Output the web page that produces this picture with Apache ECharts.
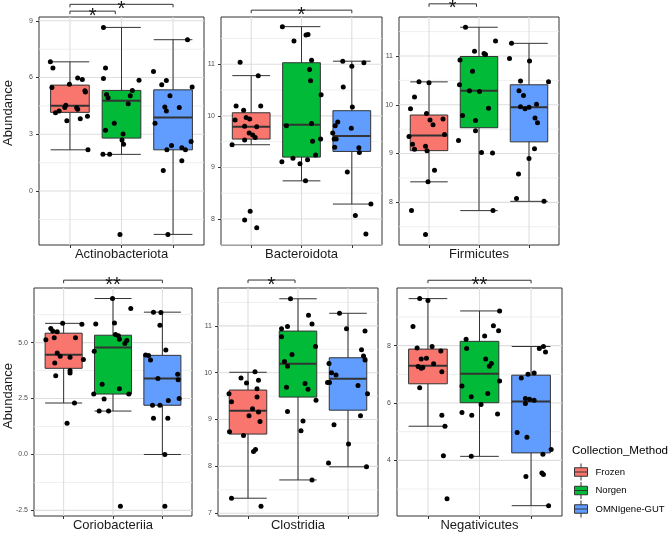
<!DOCTYPE html>
<html>
<head>
<meta charset="utf-8">
<script src="https://cdn.jsdelivr.net/npm/echarts@6/dist/echarts.min.js"></script>
<style>
  html, body { margin: 0; padding: 0; background: #fff; }
  #chart { width: 670px; height: 535px; }
</style>
</head>
<body>
<div id="chart"></div>
<script>
// boxplots of abundance by collection method, one panel per taxon
const METHODS = ['Frozen', 'Norgen', 'OMNIgene-GUT'];
const METHOD_COLORS = ['#F8766D', '#00BA38', '#619CFF'];

// --- Actinobacteriota
const actinoRange = [-2.85, 9.2];
const actinoTicks = [0, 3, 6, 9];
const actinoMinor = [-1.5, 1.5, 4.5, 7.5];
// [lower whisker, Q1, median, Q3, upper whisker]
const actinoBox = [[2.18, 4.16, 4.51, 5.60, 6.83], [1.94, 2.80, 4.77, 5.32, 8.65], [-2.29, 2.18, 3.89, 5.35, 8.0]];
const actinoJitter = [
  [-0.38, -0.33, -0.35, -0.01, 0.15, 0.24, 0.29, 0.30, -0.28, -0.21, -0.10, -0.08, 0.13, 0.15, -0.06, 0.20, 0.34, 0.35],
  [-0.35, -0.31, -0.35, -0.29, -0.26, 0.21, 0.17, 0.34, 0.13, -0.14, -0.31, 0.03, 0.01, 0.04, -0.36, -0.23, -0.03],
  [0.28, -0.38, -0.22, -0.13, -0.06, 0.37, -0.16, -0.13, 0.12, -0.35, 0.35, -0.03, -0.12, 0.17, 0.24, 0.17, -0.19, -0.10]
];
const actinoValues = [
  [6.83, 6.50, 5.48, 5.65, 5.97, 5.90, 5.30, 5.23, 4.14, 4.23, 4.42, 4.53, 4.40, 4.33, 3.72, 3.82, 3.96, 2.18],
  [8.65, 6.50, 5.95, 5.11, 4.93, 5.32, 5.04, 5.86, 4.61, 3.58, 3.21, 3.01, 2.70, 2.47, 1.94, 1.94, -2.29],
  [8.0, 6.32, 5.62, 5.85, 5.04, 5.50, 4.44, 4.23, 4.42, 3.58, 2.62, 2.41, 2.18, 2.29, 2.18, 1.60, 1.09, -2.29]
];
// [from, to, height, label]
const actinoSignif = [[1, 1.88, 9.51, '*'], [1, 3, 9.87, '*']];

// --- Bacteroidota
const bacteroRange = [7.496, 11.917];
const bacteroTicks = [8, 9, 10, 11];
const bacteroMinor = [7.5, 8.5, 9.5, 10.5, 11.5];
const bacteroBox = [[9.44, 9.55, 9.79, 10.06, 10.78], [8.74, 9.20, 9.83, 11.03, 11.73], [8.29, 9.31, 9.61, 10.10, 11.06]];
const bacteroJitter = [
  [-0.22, 0.14, -0.30, -0.15, 0.19, -0.32, -0.10, -0.03, -0.13, 0.11, -0.04, 0.03, 0.08, -0.13, -0.38, -0.02, -0.13, 0.11],
  [-0.38, 0.09, 0.13, -0.15, 0.20, 0.16, 0.18, 0.39, -0.30, 0.20, 0.38, 0.22, 0.28, -0.39, -0.17, -0.03, 0.12, 0.08],
  [-0.18, 0.24, 0, -0.17, 0.01, -0.28, -0.33, -0.01, -0.38, -0.35, -0.31, -0.34, 0.14, 0.15, -0.09, 0.38, 0.07, 0.28]
];
const bacteroValues = [
  [11.04, 10.78, 10.19, 10.11, 10.19, 9.92, 9.97, 9.94, 9.80, 9.79, 9.67, 9.63, 9.58, 9.53, 9.44, 8.15, 7.98, 7.83],
  [11.73, 11.57, 11.58, 11.45, 11.08, 10.90, 10.68, 10.41, 9.81, 9.85, 9.55, 9.51, 9.24, 9.11, 9.18, 9.07, 9.15, 8.74],
  [11.06, 11.03, 10.96, 10.56, 10.17, 9.88, 9.81, 9.76, 9.67, 9.55, 9.55, 9.39, 9.38, 9.29, 8.91, 8.29, 8.07, 7.71]
];
const bacteroSignif = [[1, 3, 12.05, '*']];

// --- Firmicutes
const firmiRange = [7.125, 11.80];
const firmiTicks = [8, 9, 10, 11];
const firmiMinor = [7.5, 8.5, 9.5, 10.5, 11.5];
const firmiBox = [[8.42, 9.06, 9.37, 9.79, 10.47], [7.83, 9.53, 10.29, 10.99, 11.59], [8.02, 9.24, 9.95, 10.41, 11.26]];
const firmiJitter = [
  [-0.20, 0, -0.29, -0.37, -0.05, 0.02, 0.08, 0.28, 0.31, -0.40, -0.33, -0.29, -0.07, -0.04, 0.11, -0.02, -0.35, -0.07],
  [-0.27, 0.33, -0.09, 0.10, 0.13, -0.38, -0.13, -0.39, -0.19, 0.01, 0.19, -0.33, -0.07, -0.07, -0.41, 0.05, 0.27, 0.28],
  [-0.35, -0.39, 0.01, -0.17, 0.39, -0.20, -0.11, -0.17, -0.08, 0, 0.15, 0.12, 0.17, 0.11, 0, -0.21, -0.25, 0.30]
];
const firmiValues = [
  [10.47, 10.45, 10.16, 9.92, 9.82, 9.69, 9.59, 9.71, 9.39, 9.35, 9.19, 9.09, 9.15, 9.06, 8.66, 8.42, 7.83, 7.34],
  [11.59, 11.31, 11.10, 11.05, 11.03, 10.92, 10.69, 10.41, 10.29, 10.27, 9.93, 9.78, 9.68, 9.47, 9.27, 9.02, 9.01, 7.83],
  [11.26, 10.95, 10.90, 10.49, 10.47, 10.29, 10.19, 9.96, 9.92, 9.95, 10.01, 9.73, 9.63, 9.10, 8.90, 8.58, 8.08, 8.02]
];
const firmiSignif = [[1, 1.95, 12.07, '*']];

// --- Coriobacteriia
const corioRange = [-2.75, 7.44];
const corioTicks = [-2.5, 0, 2.5, 5];
const corioMinor = [-1.25, 1.25, 3.75, 6.25];
const corioBox = [[2.30, 3.85, 4.46, 5.42, 5.86], [1.94, 2.70, 4.78, 5.33, 6.97], [0.0, 2.20, 3.39, 4.43, 6.36]];
const corioJitter = [
  [-0.02, 0.37, -0.26, -0.13, -0.22, -0.36, -0.19, 0.24, -0.13, -0.07, 0.13, 0.40, -0.18, 0.13, 0.13, -0.16, 0.22, 0.07],
  [-0.01, 0.36, -0.35, 0.03, 0.05, 0.11, 0.13, 0.28, 0.24, -0.38, -0.22, 0.13, -0.39, 0.32, -0.18, -0.28, -0.09, 0.15],
  [-0.18, -0.03, -0.05, -0.34, -0.28, -0.24, 0.07, -0.09, 0.31, 0.32, 0.34, 0.12, -0.20, -0.05, -0.18, 0.11, 0.05, 0.05]
];
const corioValues = [
  [5.86, 5.82, 5.63, 5.49, 5.52, 5.13, 5.22, 5.22, 4.54, 4.39, 4.34, 4.25, 4.09, 3.75, 3.64, 3.52, 2.30, 1.39],
  [6.97, 6.52, 5.83, 5.88, 5.36, 5.31, 5.15, 5.09, 4.96, 4.61, 3.14, 2.94, 2.70, 2.70, 2.48, 1.94, 1.94, -2.31],
  [6.36, 6.34, 5.78, 4.45, 4.42, 4.22, 4.67, 3.40, 3.58, 3.34, 2.50, 2.41, 2.20, 2.20, 1.62, 1.62, 0.0, -2.31]
];
const corioSignif = [[1, 3, 7.79, '**']];

// --- Clostridia
const clostRange = [6.94, 11.81];
const clostTicks = [7, 8, 9, 10, 11];
const clostMinor = [7.5, 8.5, 9.5, 10.5, 11.5];
const clostBox = [[7.32, 8.69, 9.19, 9.63, 10.01], [7.71, 9.48, 10.19, 10.89, 11.58], [7.99, 9.20, 9.87, 10.32, 11.27]];
const clostJitter = [
  [0.14, -0.14, 0.21, -0.03, 0.18, -0.38, 0.18, -0.33, 0.09, 0.02, 0.21, 0.24, -0.37, -0.09, 0.11, 0.15, -0.33, 0.26],
  [-0.15, 0.21, 0.28, -0.33, -0.21, -0.33, 0.35, -0.12, -0.27, -0.21, -0.23, 0.14, 0.20, 0.36, -0.21, 0.10, 0.06, 0.28],
  [-0.17, -0.03, 0.34, 0.27, 0.31, 0.34, -0.38, -0.33, -0.24, -0.41, -0.37, 0.20, 0.39, 0.25, -0.28, 0.01, -0.39, 0.37]
];
const clostValues = [
  [10.02, 9.89, 9.84, 9.78, 9.66, 9.55, 9.48, 9.38, 9.23, 9.08, 9.16, 8.96, 8.74, 8.66, 8.32, 8.36, 7.32, 7.15],
  [11.58, 11.23, 11.04, 10.94, 10.99, 10.77, 10.56, 10.39, 10.24, 10.14, 9.69, 9.77, 9.65, 9.41, 9.17, 8.97, 8.76, 7.71],
  [11.27, 10.94, 10.89, 10.49, 10.36, 10.27, 10.20, 10.00, 9.95, 9.79, 9.79, 9.73, 9.55, 9.08, 8.89, 8.48, 8.07, 7.99]
];
const clostSignif = [[1, 1.94, 11.98, '*']];

// --- Negativicutes
const negaRange = [2.06, 10.01];
const negaTicks = [4, 6, 8];
const negaMinor = [3, 5, 7, 9];
const negaBox = [[5.19, 6.67, 7.30, 7.88, 9.64], [4.14, 6.01, 7.02, 8.15, 9.21], [2.42, 4.26, 6.05, 6.97, 7.97]];
const negaJitter = [
  [-0.16, 0, -0.29, 0.08, -0.21, 0.25, -0.13, -0.03, 0.11, -0.19, -0.13, -0.10, 0.27, -0.16, 0.27, 0.33, 0.30, 0.37],
  [0.39, 0.27, 0.37, 0.10, -0.26, -0.25, 0.12, 0.23, 0.19, 0.39, -0.34, -0.16, 0.16, 0.03, -0.34, -0.15, 0.35, -0.16],
  [0.16, 0.24, 0.28, 0.06, -0.06, -0.19, -0.11, -0.03, 0.06, -0.11, -0.27, -0.08, 0.39, 0.23, 0.21, 0.24, -0.10, 0.34]
];
const negaValues = [
  [9.64, 9.57, 8.67, 7.97, 7.92, 7.81, 7.53, 7.56, 7.37, 7.27, 7.21, 7.24, 7.09, 6.53, 5.57, 5.19, 4.16, 2.66],
  [9.21, 8.69, 8.52, 8.34, 8.22, 7.90, 7.53, 7.38, 7.28, 6.77, 6.59, 6.22, 6.33, 5.95, 5.67, 5.57, 5.62, 4.14],
  [7.90, 7.97, 7.78, 7.05, 7.00, 6.87, 6.16, 6.13, 6.10, 5.98, 4.97, 4.81, 4.38, 4.21, 3.56, 3.51, 3.44, 2.42]
];
const negaSignif = [[1, 3, 10.28, '**']];

const panels = [
  { name: 'Actinobacteriota', range: actinoRange, ticks: actinoTicks, minor: actinoMinor, box: actinoBox, jitter: actinoJitter, values: actinoValues, signif: actinoSignif, digits: 0 },
  { name: 'Bacteroidota', range: bacteroRange, ticks: bacteroTicks, minor: bacteroMinor, box: bacteroBox, jitter: bacteroJitter, values: bacteroValues, signif: bacteroSignif, digits: 0 },
  { name: 'Firmicutes', range: firmiRange, ticks: firmiTicks, minor: firmiMinor, box: firmiBox, jitter: firmiJitter, values: firmiValues, signif: firmiSignif, digits: 0 },
  { name: 'Coriobacteriia', range: corioRange, ticks: corioTicks, minor: corioMinor, box: corioBox, jitter: corioJitter, values: corioValues, signif: corioSignif, digits: 1 },
  { name: 'Clostridia', range: clostRange, ticks: clostTicks, minor: clostMinor, box: clostBox, jitter: clostJitter, values: clostValues, signif: clostSignif, digits: 0 },
  { name: 'Negativicutes', range: negaRange, ticks: negaTicks, minor: negaMinor, box: negaBox, jitter: negaJitter, values: negaValues, signif: negaSignif, digits: 0 }
];

// panel rectangles [left, top, width, height]
const LAYOUT = [
  [39, 17, 165, 228], [221, 17, 161, 228], [399, 17, 160, 228],
  [34, 288, 158, 228], [218, 288, 160, 228], [397, 288, 165, 228]
];

const FONT = "'Liberation Sans', Arial, sans-serif";
const BOX_WIDTH = 0.75;
const X_RANGE = [0.4, 3.6];
const X_CENTERS = [1, 2, 3];
const EDGE = '#333333';
const GRID_MAJOR = '#DEDEDE';
const GRID_MINOR = '#EBEBEB';
const BOX_ICON = 'path://M6.5,0V4.25M6.5,12.75V17M0,4.25H13V12.75H0ZM0,8.5H13';

const renderBox = (params, api) => {
  const x = api.value(0);
  const lo = api.coord([x, api.value(1)]);
  const q1 = api.coord([x, api.value(2)]);
  const md = api.coord([x, api.value(3)]);
  const q3 = api.coord([x, api.value(4)]);
  const hi = api.coord([x, api.value(5)]);
  const half = api.size([BOX_WIDTH, 0])[0] / 2;
  const cx = lo[0];
  const line = { stroke: EDGE, lineWidth: 1 };
  return {
    type: 'group',
    children: [
      { type: 'line', shape: { x1: cx, y1: hi[1], x2: cx, y2: lo[1] }, style: line },
      { type: 'line', shape: { x1: cx - half, y1: hi[1], x2: cx + half, y2: hi[1] }, style: line },
      { type: 'line', shape: { x1: cx - half, y1: lo[1], x2: cx + half, y2: lo[1] }, style: line },
      { type: 'rect', shape: { x: cx - half, y: q3[1], width: half * 2, height: q1[1] - q3[1] },
        style: { fill: api.visual('color'), stroke: EDGE, lineWidth: 1 } },
      { type: 'line', shape: { x1: cx - half, y1: md[1], x2: cx + half, y2: md[1] }, style: { stroke: EDGE, lineWidth: 2 } }
    ]
  };
};

// horizontal bracket with small down ticks and the star label centred on it
const makeBracketRenderer = (signif) => (params, api) => {
  const a = api.coord([api.value(0), api.value(2)]);
  const b = api.coord([api.value(1), api.value(2)]);
  return {
    type: 'group',
    children: [
      { type: 'polyline', shape: { points: [[a[0], a[1] + 3], [a[0], a[1]], [b[0], b[1]], [b[0], b[1] + 3]] },
        style: { stroke: EDGE, fill: null, lineWidth: 1 } },
      { type: 'text', x: (a[0] + b[0]) / 2, y: a[1] + 5,
        style: { text: signif[params.dataIndex][3], fill: '#111', font: `20px ${FONT}`, textAlign: 'center', textVerticalAlign: 'middle' } }
    ]
  };
};

// panel grid as a plain line series per grid line: two points through the axes
const gridSeries = (p, i) => {
  const out = [];
  const add = (pts, color, width) => out.push({
    type: 'line',
    xAxisIndex: i,
    yAxisIndex: i,
    z: 1,
    silent: true,
    symbol: 'none',
    lineStyle: { color, width },
    data: pts
  });
  p.minor.forEach((v) => add([[X_RANGE[0], v], [X_RANGE[1], v]], GRID_MINOR, 0.8));
  p.ticks.forEach((v) => add([[X_RANGE[0], v], [X_RANGE[1], v]], GRID_MAJOR, 1.1));
  X_CENTERS.forEach((v) => add([[v, p.range[0]], [v, p.range[1]]], GRID_MAJOR, 1.1));
  return out;
};

const series = [];
panels.forEach((p, i) => {
  series.push(...gridSeries(p, i));
  METHODS.forEach((m, k) => {
    series.push({
      type: 'custom',
      name: m,
      xAxisIndex: i,
      yAxisIndex: i,
      z: 2,
      itemStyle: { color: METHOD_COLORS[k] },
      data: [[k + 1, ...p.box[k]]],
      encode: { x: 0, y: [1, 2, 3, 4, 5] },
      renderItem: renderBox
    });
  });
  const pts = [];
  p.values.forEach((vals, k) => vals.forEach((v, j) => pts.push([k + 1 + p.jitter[k][j], v])));
  series.push({
    type: 'scatter',
    xAxisIndex: i,
    yAxisIndex: i,
    z: 3,
    symbolSize: 5,
    itemStyle: { color: '#000', opacity: 1 },
    data: pts
  });
  series.push({
    type: 'custom',
    xAxisIndex: i,
    yAxisIndex: i,
    z: 4,
    clip: false,
    data: p.signif.map((s) => [s[0], s[1], s[2]]),
    renderItem: makeBracketRenderer(p.signif)
  });
});

const option = {
  animation: false,
  backgroundColor: '#fff',
  textStyle: { fontFamily: FONT },
  grid: LAYOUT.map((r) => ({
    left: r[0], top: r[1], width: r[2], height: r[3],
    show: true, borderColor: EDGE, borderWidth: 1, backgroundColor: 'transparent'
  })),
  xAxis: panels.map((p, i) => ({
    gridIndex: i,
    type: 'value',
    min: X_RANGE[0],
    max: X_RANGE[1],
    name: p.name,
    nameLocation: 'middle',
    nameGap: 3,
    nameTextStyle: { fontSize: 13, color: '#1a1a1a', fontFamily: FONT },
    axisLine: { show: false, onZero: false },
    axisTick: { show: true, length: 3, lineStyle: { color: EDGE }, customValues: X_CENTERS },
    axisLabel: { show: false },
    splitLine: { show: false }
  })),
  yAxis: panels.map((p, i) => ({
    gridIndex: i,
    type: 'value',
    min: p.range[0],
    max: p.range[1],
    axisLine: { show: false, onZero: false },
    axisTick: { show: true, length: 3, lineStyle: { color: EDGE }, customValues: p.ticks },
    axisLabel: {
      customValues: p.ticks,
      fontSize: 7,
      color: '#4d4d4d',
      margin: 6,
      fontFamily: FONT,
      formatter: (v) => Number(v).toFixed(p.digits)
    },
    splitLine: { show: false }
  })),
  title: {
    text: 'Collection_Method',
    left: 572,
    top: 445,
    padding: 0,
    textStyle: { fontSize: 11.6, fontWeight: 'normal', color: '#000', fontFamily: FONT }
  },
  legend: {
    data: METHODS,
    orient: 'vertical',
    left: 574,
    top: 463,
    padding: 0,
    itemWidth: 13,
    itemHeight: 17,
    itemGap: 0.5,
    icon: BOX_ICON,
    selectedMode: false,
    itemStyle: { borderColor: EDGE, borderWidth: 1 },
    textStyle: { fontSize: 9.5, color: '#000', fontFamily: FONT, padding: [0, 0, 0, 3] }
  },
  graphic: [
    { type: 'text', x: 8, y: 113, rotation: Math.PI / 2,
      style: { text: 'Abundance', fill: '#1a1a1a', font: `13px ${FONT}`, textAlign: 'center', textVerticalAlign: 'middle' } },
    { type: 'text', x: 8, y: 396, rotation: Math.PI / 2,
      style: { text: 'Abundance', fill: '#1a1a1a', font: `13px ${FONT}`, textAlign: 'center', textVerticalAlign: 'middle' } }
  ],
  series
};

const chart = echarts.init(document.getElementById('chart'), null, { renderer: 'canvas' });
chart.setOption(option);
</script>
</body>
</html>
